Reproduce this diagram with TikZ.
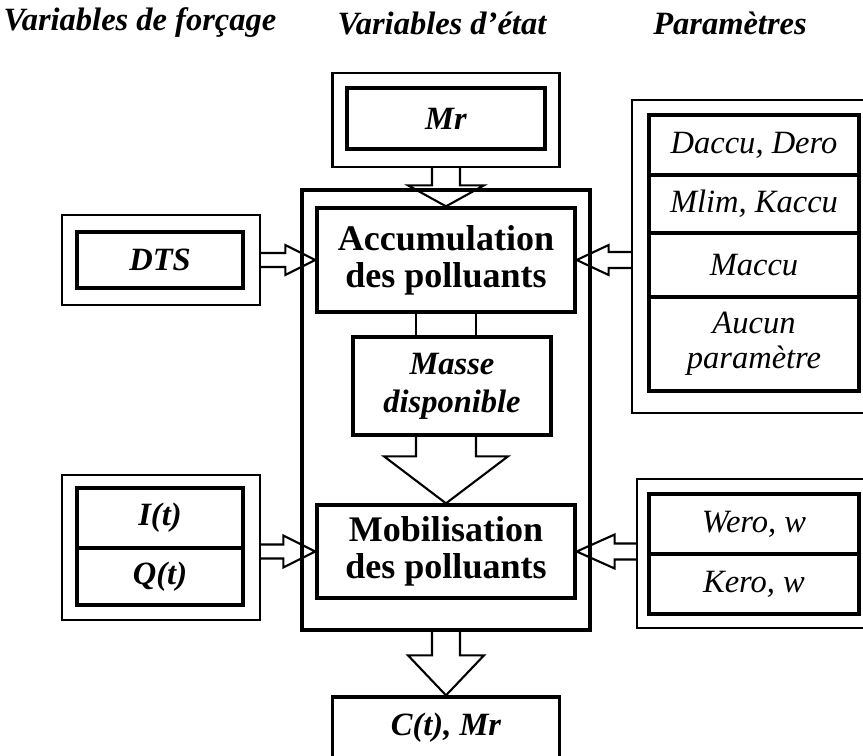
\documentclass[tikz,border=0pt]{standalone}
\usepackage{fontspec}
\setmainfont{Liberation Serif}
\usetikzlibrary{calc}
\tikzset{
    cadre/.style={draw, line width=1.2pt, inner sep=0pt},
    boite/.style={draw, line width=1.9pt, inner sep=0pt, align=center},
    taille/.style 2 args={minimum width=#1*0.02cm, minimum height=#2*0.02cm},
    fleche/.style={draw, line width=1.2pt, line join=miter},
    titre/.style={font=\fontsize{18.5}{21}\selectfont\bfseries\itshape},
    gras/.style={font=\fontsize{20.5}{21}\selectfont\bfseries},
    grasit/.style={font=\fontsize{18.5}{21.5}\selectfont\bfseries\itshape},
    ital/.style={font=\fontsize{18.5}{20}\selectfont\itshape}
}

\begin{document}
\begin{tikzpicture}[x=0.02cm, y=-0.02cm]

      % start, tip, shaft half width, head half width, head length
      \newcommand\flechebas[5]{
        \draw[fleche]
          ($(#1)+(-#3,0)$) -- ($(#2)+(-#3,-#5)$) -- ($(#2)+(-#4,-#5)$)
          -- (#2)
          -- ($(#2)+(#4,-#5)$) -- ($(#2)+(#3,-#5)$) -- ($(#1)+(#3,0)$);
      }
      \newcommand\flechedroite[5]{
        \draw[fleche]
          ($(#1)+(0,-#3)$) -- ($(#2)+(-#5,-#3)$) -- ($(#2)+(-#5,-#4)$)
          -- (#2)
          -- ($(#2)+(-#5,#4)$) -- ($(#2)+(-#5,#3)$) -- ($(#1)+(0,#3)$);
      }
      \newcommand\flechegauche[5]{
        \draw[fleche]
          ($(#1)+(0,-#3)$) -- ($(#2)+(#5,-#3)$) -- ($(#2)+(#5,-#4)$)
          -- (#2)
          -- ($(#2)+(#5,#4)$) -- ($(#2)+(#5,#3)$) -- ($(#1)+(0,#3)$);
      }

      \useasboundingbox (0,0) rectangle (863,755);

      % titres
      \node[titre] (t-forcage) at (140,23) {Variables de forçage};
      \node[titre] (t-etat) at (442,23) {Variables d'état};
      \node[titre] (t-param) at (730,23) {Paramètres};

      % variables d'etat
      \node[cadre, taille={227}{94}] (mrcadre) at (446,120) {};
      \node[boite, grasit, taille={198}{61}] (mr) at (446,118.5) {Mr};
      \node[boite, taille={288}{440}] (principal) at (446,410) {};
      \node[boite, gras, taille={258}{104}] (accu) at (446,260) {Accumulation\\des polluants};
      \node[boite, grasit, taille={198}{98}] (masse) at (452,386) {Masse\\disponible};
      \node[boite, gras, taille={258}{93}] (mobil) at (446,551.5) {Mobilisation\\des polluants};
      \node[boite, grasit, taille={227}{62}] (ctmr) at (446,728) {C(t), Mr};

      % variables de forcage
      \node[cadre, taille={198}{90}] (dtscadre) at (161,260) {};
      \node[boite, grasit, taille={166}{56}] (dts) at (160,260) {DTS};
      \node[cadre, taille={198}{145}] (iqcadre) at (161,547.5) {};
      \node[boite, grasit, taille={166}{60}] (it) at (160,518) {I(t)};
      \node[boite, grasit, taille={166}{57}] (qt) at (160,576.5) {Q(t)};

      % parametres
      \node[cadre, taille={248}{313}] (pcadre) at (756,256.5) {};
      \node[boite, ital, taille={210}{60}] (p-daccu) at (754,145) {Daccu, Dero};
      \node[boite, ital, taille={210}{58}] (p-mlim) at (754,204) {Mlim, Kaccu};
      \node[boite, ital, taille={210}{64}] (p-maccu) at (754,265) {Maccu};
      \node[boite, ital, taille={210}{94}] (p-aucun) at (754,344) {Aucun\\paramètre};
      \node[cadre, taille={243}{149}] (wcadre) at (758.5,553.5) {};
      \node[boite, ital, taille={210}{60}] (p-wero) at (754,524) {Wero, w};
      \node[boite, ital, taille={210}{60}] (p-kero) at (754,584) {Kero, w};

      % fleches
      \flechebas{mrcadre.south}{accu.north}{14}{38}{21};
      \draw[fleche] ($(accu.south)+(-30,0)$) -- ($(accu.south |- masse.north)+(-30,0)$)
                    ($(accu.south)+(30,0)$) -- ($(accu.south |- masse.north)+(30,0)$);
      \flechebas{masse.south -| accu.south}{mobil.north}{30}{62}{47};
      \flechebas{principal.south}{ctmr.north}{14}{38}{40};
      \flechedroite{dtscadre.east |- accu.west}{accu.west}{7}{15}{30};
      \flechedroite{iqcadre.east |- mobil.west}{mobil.west}{7}{16}{32};
      \flechegauche{pcadre.west |- accu.east}{accu.east}{8}{15}{32};
      \flechegauche{wcadre.west |- mobil.east}{mobil.east}{8}{17}{38};
    \end{tikzpicture}
\end{document}
